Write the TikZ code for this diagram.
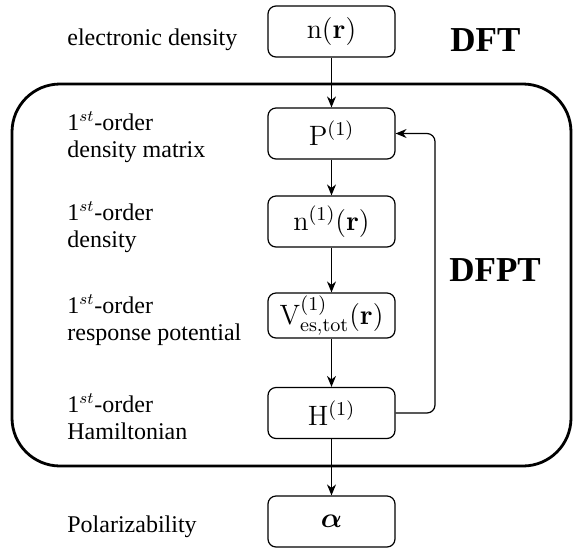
\RequirePackage{fix-cm}
\documentclass[tikz,border=0pt]{standalone}
\usepackage{amsmath,bm}
\usepackage[no-math]{fontspec}
\setmainfont{Liberation Serif}
\usetikzlibrary{arrows.meta,calc}
\begin{document}
\begin{tikzpicture}[x=0.5pt,y=-0.5pt,
  qbox/.style={draw,line width=0.6pt,rounded corners=4pt,minimum width=63.5pt,minimum height=25.5pt,inner sep=0pt,font=\rmfamily\fontsize{14}{16}\selectfont},
  lbl/.style={anchor=west,align=left,inner sep=0pt,font=\rmfamily\fontsize{12}{13.5}\selectfont},
  big/.style={font=\rmfamily\fontsize{17.5}{20}\selectfont\bfseries,inner sep=0pt},
  arr/.style={line width=0.6pt,-{Stealth[length=5.5pt,width=4.5pt]}},
  frame/.style={line width=1.4pt,rounded corners=24pt}]
\useasboundingbox (0,0) rectangle (574,548);
\draw[frame] (12,84) rectangle (571,466);
\node[qbox] (n) at (331.5,31.5) {$\mathrm{n}(\mathbf{r})$};
\node[qbox] (P) at (331.5,133.5) {$\mathrm{P}^{(1)}$};
\node[qbox] (n1) at (331.5,221.5) {$\mathrm{n}^{(1)}(\mathbf{r})$};
\node[qbox,minimum height=22.5pt] (V) at (331.5,315.5) {$\mathrm{V}^{(1)}_{\mathrm{es,tot}}(\mathbf{r})$};
\node[qbox] (H) at (331.5,413) {$\mathrm{H}^{(1)}$};
\node[qbox] (a) at (331.5,521.5) {$\bm{\alpha}$};
\node[lbl] (l0) at (67,40) {electronic density};
\node[lbl] (l1) at (67,137) {1$^{st}$-order\\density matrix};
\node[lbl] (l2) at (67,227) {1$^{st}$-order\\density};
\node[lbl] (l3) at (67,320) {1$^{st}$-order\\response potential};
\node[lbl] (l4) at (67,417) {1$^{st}$-order\\Hamiltonian};
\node[lbl] (l5) at (67,527) {Polarizability};
\node[big,anchor=west] (dft) at (450,40) {DFT};
\node[big,anchor=west] (dfpt) at (449,270) {DFPT};
\coordinate (fb) at (435,273);
\draw[arr] (n) -- (P);
\draw[arr] (P) -- (n1);
\draw[arr] (n1) -- (V);
\draw[arr] (V) -- (H);
\draw[arr] (H) -- (a);
\draw[arr,rounded corners=4pt] (H.east) -| (fb) |- (P.east);
\end{tikzpicture}
\end{document}
